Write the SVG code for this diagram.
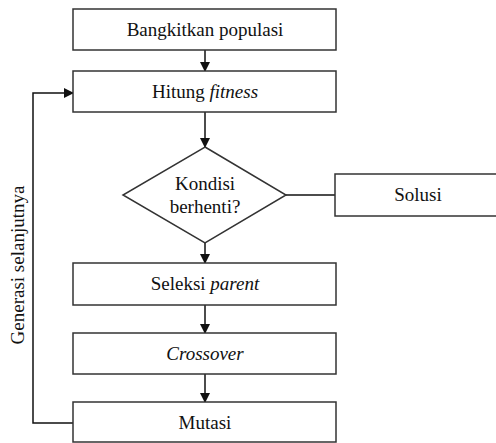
<svg xmlns="http://www.w3.org/2000/svg" width="496" height="443" viewBox="0 0 496 443">
<style>
.box{fill:#fff;stroke:#333;stroke-width:1.5}
.t{font-size:19px;fill:#111;text-anchor:middle}
.c{fill:none;stroke:#111;stroke-width:1.5}
</style>
<defs>
<marker id="a" markerWidth="10" markerHeight="10" refX="9" refY="5" orient="auto" markerUnits="userSpaceOnUse">
<path d="M0,0 L10,5 L0,10 Z" fill="#111"/>
</marker>
</defs>
<rect width="496" height="443" fill="#fff"/>
<g id="connectors">
<line class="c" x1="205" y1="50" x2="205" y2="71" marker-end="url(#a)"/>
<line class="c" x1="205" y1="112" x2="205" y2="147" marker-end="url(#a)"/>
<line class="c" x1="205" y1="243" x2="205" y2="263" marker-end="url(#a)"/>
<line class="c" x1="205" y1="305" x2="205" y2="333" marker-end="url(#a)"/>
<line class="c" x1="205" y1="374" x2="205" y2="402" marker-end="url(#a)"/>
<line class="c" x1="286" y1="195" x2="335" y2="195"/>
<polyline class="c" points="73,423 33,423 33,93 73,93" marker-end="url(#a)"/>
</g>
<g font-family="Liberation Serif, serif">
<g id="n1"><rect class="box" x="73" y="9" width="263" height="41"/><text class="t" x="205" y="36">Bangkitkan populasi</text></g>
<g id="n2"><rect class="box" x="73" y="71" width="263" height="41"/><text class="t" x="205" y="98">Hitung <tspan font-style="italic">fitness</tspan></text></g>
<g id="n3"><polygon class="box" points="205,147 286,195 205,243 123,195"/><text class="t" x="205" y="190">Kondisi</text><text class="t" x="205" y="213">berhenti?</text></g>
<g id="n4"><rect class="box" x="335" y="174" width="162" height="42"/><text class="t" x="418" y="201">Solusi</text></g>
<g id="n5"><rect class="box" x="73" y="263" width="263" height="42"/><text class="t" x="205" y="290">Seleksi <tspan font-style="italic">parent</tspan></text></g>
<g id="n6"><rect class="box" x="73" y="333" width="263" height="41"/><text class="t" x="205" y="360" font-style="italic">Crossover</text></g>
<g id="n7"><rect class="box" x="73" y="402" width="263" height="40"/><text class="t" x="205" y="429">Mutasi</text></g>
<text class="t" transform="translate(24,265) rotate(-90)">Generasi selanjutnya</text>
</g>
</svg>
